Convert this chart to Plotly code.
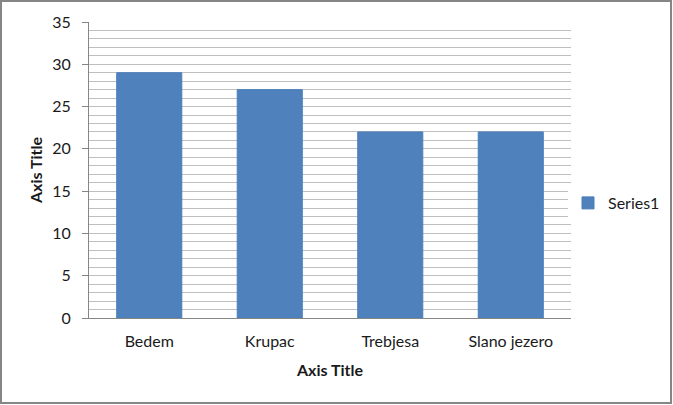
import plotly.graph_objects as go

categories = ["Bedem", "Krupac", "Trebjesa", "Slano jezero"]
values = [29, 27, 22, 22]
series_name = "Series1"

W, H = 673, 405
ML, MR, MT, MB = 89, 102, 22, 87
pw, ph = W - ML - MR, H - MT - MB

font_family = "Lato, 'Open Sans', sans-serif"

fig = go.Figure(
    go.Bar(
        x=categories,
        y=values,
        name=series_name,
        marker=dict(color="#4F81BD", line=dict(color="#4A7EBB", width=1)),
        showlegend=True,
    )
)

fig.update_layout(
    width=W,
    height=H,
    margin=dict(l=ML, r=MR, t=MT, b=MB, autoexpand=False),
    paper_bgcolor="white",
    plot_bgcolor="white",
    bargap=0.46,
    font=dict(family=font_family, size=16, color="#1a1a1a"),
    legend=dict(
        x=(568 - ML) / pw,
        y=(318 - 203) / ph,
        xanchor="left",
        yanchor="middle",
        font=dict(size=16),
        itemwidth=30,
    ),
    shapes=[
        dict(
            type="rect",
            xref="paper",
            yref="paper",
            x0=(1 - ML) / pw,
            x1=(W - 2 - ML) / pw,
            y0=(H - MB - (H - 2)) / ph,
            y1=(H - MB - 1) / ph,
            line=dict(color="#868686", width=2),
            fillcolor="rgba(0,0,0,0)",
            layer="above",
        )
    ],
)

fig.update_xaxes(
    title=dict(text="<b>Axis Title</b>", font=dict(size=16), standoff=15),
    automargin=False,
    showline=True,
    linecolor="#868686",
    linewidth=1,
    ticks="",
    ticklabelstandoff=9,
    showgrid=False,
)

fig.update_yaxes(
    title=dict(text="<b>Axis Title</b>", font=dict(size=16), standoff=5),
    automargin=False,
    range=[0, 35],
    dtick=5,
    showline=True,
    linecolor="#868686",
    linewidth=1,
    ticks="outside",
    ticklen=6,
    tickcolor="#868686",
    ticklabelstandoff=8,
    showgrid=True,
    gridcolor="#BFBFBF",
    gridwidth=1,
    zeroline=False,
    minor=dict(dtick=1, showgrid=True, gridcolor="#BFBFBF", gridwidth=1),
)

fig.write_html(
    "out.html",
    config={"displayModeBar": False},
    post_script="document.body.style.margin='0';",
)
